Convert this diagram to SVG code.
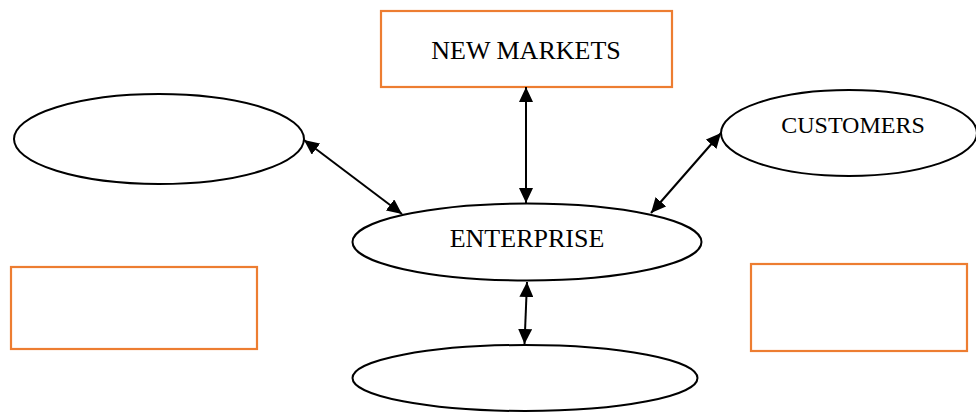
<svg xmlns="http://www.w3.org/2000/svg" width="976" height="412" viewBox="0 0 976 412">
  <style>
    .box { fill: #ffffff; stroke: #ED7D31; stroke-width: 2.2; }
    .oval { fill: #ffffff; stroke: #000000; stroke-width: 2; }
    .label { font-family: "Liberation Serif", "Times New Roman", serif; fill: #000000; text-anchor: middle; }
    .link { stroke: #000000; stroke-width: 2; fill: none; marker-start: url(#head); marker-end: url(#head); }
  </style>
  <defs>
    <marker id="head" viewBox="0 0 15 14" refX="15" refY="7" markerWidth="15" markerHeight="14" markerUnits="userSpaceOnUse" orient="auto-start-reverse">
      <path d="M0,0 L15,7 L0,14 Z" fill="#000000"/>
    </marker>
  </defs>
  <rect width="976" height="412" fill="#ffffff"/>

  <g id="new-markets">
    <rect class="box" x="381" y="11" width="291" height="76"/>
    <text class="label" x="526" y="59" font-size="26">NEW MARKETS</text>
  </g>

  <g id="left-oval">
    <ellipse class="oval" cx="159" cy="139" rx="145" ry="45"/>
  </g>

  <g id="customers">
    <ellipse class="oval" cx="849" cy="133" rx="128" ry="43"/>
    <text class="label" x="853" y="133" font-size="24">CUSTOMERS</text>
  </g>

  <g id="enterprise">
    <ellipse class="oval" cx="527" cy="242" rx="174.5" ry="38.5"/>
    <text class="label" x="527" y="247" font-size="26">ENTERPRISE</text>
  </g>

  <g id="left-box">
    <rect class="box" x="11" y="267" width="246" height="82"/>
  </g>

  <g id="right-box">
    <rect class="box" x="751" y="264" width="216" height="87"/>
  </g>

  <g id="bottom-oval">
    <ellipse class="oval" cx="525" cy="378" rx="172.5" ry="33"/>
  </g>

  <g id="connectors">
    <line class="link" x1="526" y1="87" x2="526" y2="203"/>
    <line class="link" x1="304" y1="140" x2="402" y2="214"/>
    <line class="link" x1="721" y1="133" x2="651" y2="213"/>
    <line class="link" x1="527" y1="282" x2="524.5" y2="344"/>
  </g>
</svg>
